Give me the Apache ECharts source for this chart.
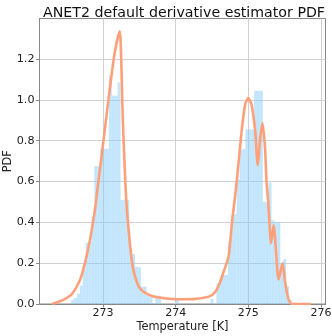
<!DOCTYPE html>
<html>
<head>
<meta charset="utf-8">
<script src="https://cdn.jsdelivr.net/npm/echarts@6/dist/echarts.min.js"></script>
<style>html,body{margin:0;padding:0;background:#fff}#c{width:332px;height:336px}</style>
</head>
<body>
<div id="c"></div>
<script>
// Histogram: bins of width 0.04 K starting at 272.56
var binStart = 272.56;
var binWidth = 0.04;
var histHeights = [
  0.02, 0.03, 0.05, 0.09, 0.17, 0.30, 0.305, 0.43, 0.675, 0.675,
  0.76, 0.76, 0.76, 1.12, 1.02, 1.02, 1.085, 0.51, 0.51, 0.51,
  0.265, 0.245, 0.183, 0.18, 0.085, 0.085, 0.04, 0.035, 0, 0.04,
  0.04, 0, 0, 0, 0, 0, 0.025, 0, 0, 0,
  0, 0, 0, 0, 0, 0, 0, 0, 0.025, 0,
  0.10, 0.118, 0.142, 0.142, 0.305, 0.436, 0.44, 0.61, 0.755, 0.76,
  0.855, 0.855, 0.855, 1.044, 1.044, 1.044, 0.50, 0.50, 0.595, 0.41,
  0.40, 0.40, 0.20, 0.22, 0.085, 0.02
];
// Estimated PDF curve
var curveT = [272.296, 272.382, 272.478, 272.573, 272.682, 272.750, 272.819, 272.887, 272.932, 272.978,
  273.023, 273.091, 273.160, 273.228, 273.251, 273.265, 273.282, 273.319, 273.364, 273.409,
  273.477, 273.546, 273.682, 273.910, 274.115, 274.274, 274.456, 274.547, 274.615, 274.660,
  274.728, 274.774, 274.828, 274.865, 274.910, 274.956, 275.000, 275.045, 275.093, 275.131,
  275.161, 275.195, 275.229, 275.251, 275.274, 275.294, 275.311, 275.349, 275.377, 275.417,
  275.472, 275.502, 275.547, 275.581, 275.615, 275.861];
var curveV = [0.0, 0.01, 0.025, 0.05, 0.118, 0.2, 0.314, 0.46, 0.59, 0.72,
  0.853, 1.05, 1.23, 1.335, 1.18, 0.98, 0.80, 0.51, 0.314, 0.18,
  0.095, 0.062, 0.038, 0.026, 0.023, 0.025, 0.036, 0.06, 0.11, 0.158,
  0.232, 0.395, 0.56, 0.69, 0.853, 0.975, 1.008, 0.975, 0.853, 0.68,
  0.80, 0.886, 0.77, 0.60, 0.50, 0.38, 0.297, 0.387, 0.28, 0.12,
  0.20, 0.118, 0.03, 0.005, 0, 0];
var xTicks = [273, 274, 275, 276];
var yTicks = [0, 0.2, 0.4, 0.6, 0.8, 1.0, 1.2];

var bins = histHeights.map(function (h, i) {
  return [binStart + i * binWidth, binStart + (i + 1) * binWidth, h];
});
var curve = curveT.map(function (t, i) { return [t, curveV[i]]; });

var font = 'DejaVu Sans';
var chart = echarts.init(document.getElementById('c'), null, {renderer: 'canvas'});
chart.setOption({
  animation: false,
  title: {
    text: 'ANET2 default derivative estimator PDF',
    left: 38, top: 1,
    textStyle: {fontFamily: font, fontSize: 14.2, fontWeight: 'normal', color: '#111'}
  },
  grid: {left: 39.5, right: 6.5, top: 18.5, bottom: 32, outerBoundsMode: 'none', containLabel: false,
    show: true, borderColor: '#888', borderWidth: 1, backgroundColor: 'transparent'},
  xAxis: {
    type: 'value', min: 272.124, max: 276.063,
    name: 'Temperature [K]', nameLocation: 'middle', nameGap: 18, nameMoveOverlap: false,
    nameTextStyle: {fontFamily: font, fontSize: 11.4, color: '#222'},
    axisLine: {show: true, onZero: false, lineStyle: {color: '#888'}},
    axisTick: {show: true, length: 3.5, customValues: xTicks, lineStyle: {color: '#888'}},
    axisLabel: {customValues: xTicks, fontFamily: font, fontSize: 11, color: '#222', margin: 4,
      hideOverlap: false, formatter: function (v) { return String(Math.round(v)); }},
    splitLine: {show: true, lineStyle: {color: '#d0d0d0', width: 1}}
  },
  yAxis: {
    type: 'value', min: 0, max: 1.398,
    name: 'PDF', nameLocation: 'middle', nameGap: 26, nameMoveOverlap: false,
    nameTextStyle: {fontFamily: font, fontSize: 11.4, color: '#222'},
    axisLine: {show: true, lineStyle: {color: '#888'}},
    axisTick: {show: true, length: 3.5, customValues: yTicks, lineStyle: {color: '#888'}},
    axisLabel: {customValues: yTicks, fontFamily: font, fontSize: 11.2, color: '#222', margin: 5,
      formatter: function (v) { return v.toFixed(1); }},
    splitLine: {show: true, lineStyle: {color: '#d0d0d0', width: 1}}
  },
  series: [
    {
      type: 'custom',
      data: bins,
      renderItem: function (params, api) {
        var p0 = api.coord([api.value(0), api.value(2)]);
        var p1 = api.coord([api.value(1), 0]);
        return {
          type: 'rect',
          shape: {x: p0[0], y: p0[1], width: p1[0] - p0[0], height: p1[1] - p0[1]},
          style: {fill: 'rgba(135,206,250,0.5)'}
        };
      },
      encode: {x: [0, 1], y: 2},
      z: 1
    },
    {
      type: 'line',
      data: curve,
      showSymbol: false,
      smooth: 0.25,
      lineStyle: {color: '#ffa07a', width: 2.6},
      z: 3
    }
  ]
});
</script>
</body>
</html>
